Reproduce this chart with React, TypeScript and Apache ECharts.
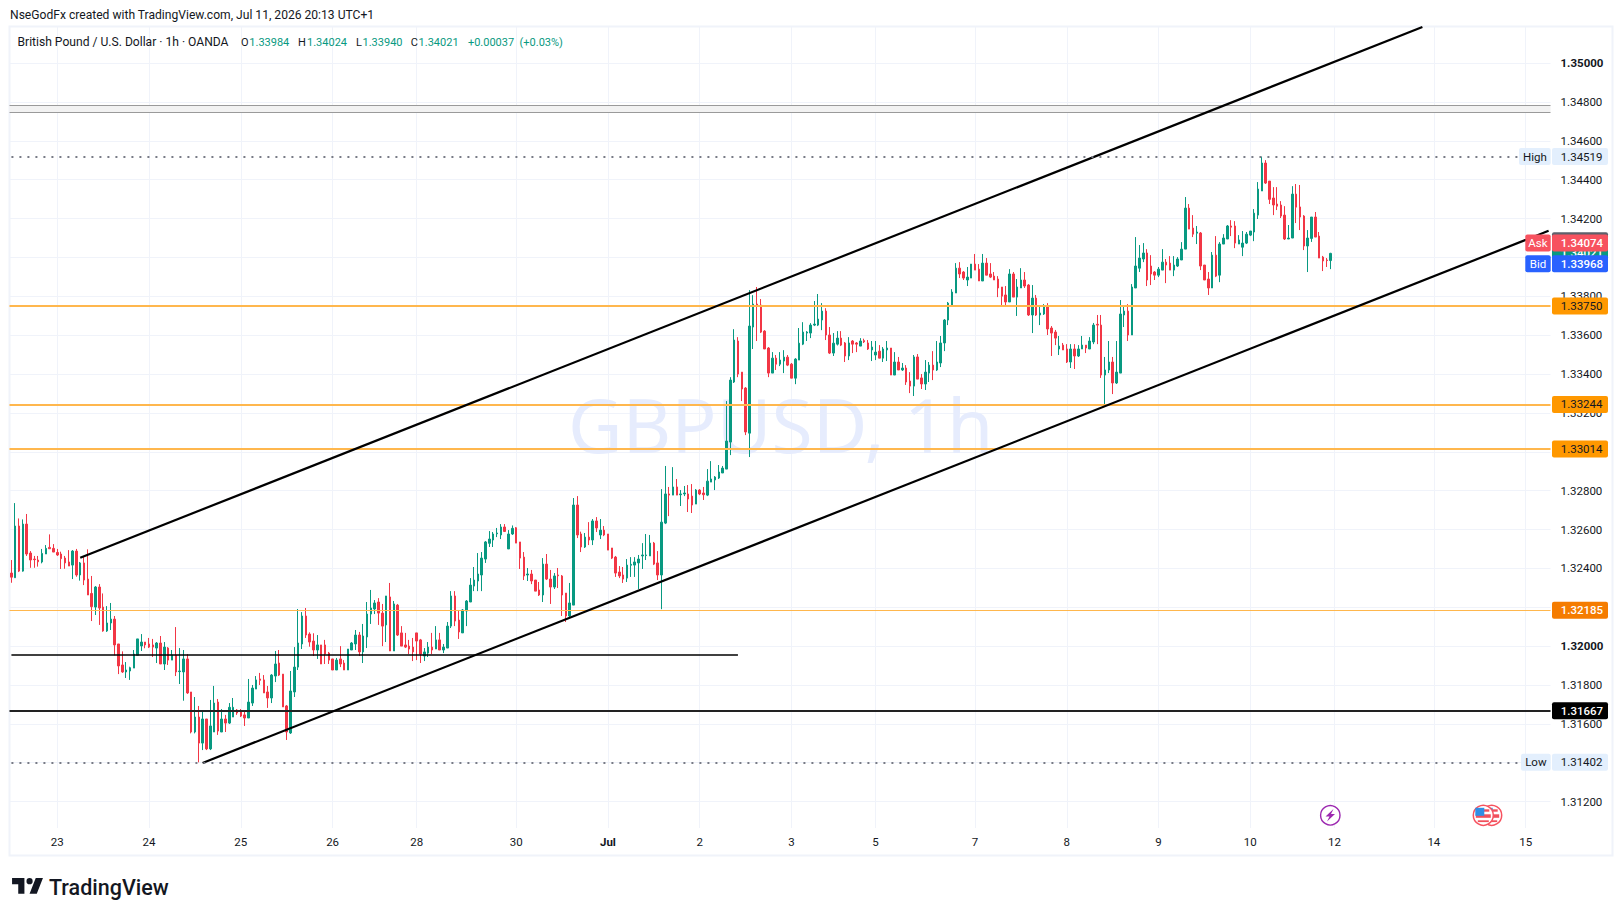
import React, { useEffect, useRef } from "react";
import * as echarts from "echarts";

// OHLC in fifths of a pip (price x 100000)
const opens = [
132376,132352,132618,132386,132628,132479,132448,132443,132433,132474,
132508,132503,132482,132474,132453,132433,132417,132489,132366,132428,
132345,132271,132201,132304,132201,132078,132119,132139,132011,131903,
131867,131872,131887,131953,132001,132021,132011,132006,131990,132016,
131908,131990,131928,131954,131869,131867,131934,131764,131558,131635,
131501,131625,131471,131558,131712,131558,131625,131604,131635,131671,
131661,131646,131630,131707,131779,131831,131826,131764,131733,131846,
131913,131856,131692,131553,131764,131892,132011,132155,132062,132026,
131980,132006,132006,131964,131934,131877,131934,131913,131877,131980,
132011,132057,131970,132047,132165,132191,132227,132170,132109,132253,
131975,132211,132068,132006,132000,131995,132068,132032,131949,131964,
131995,131985,132032,131980,131990,132103,132258,132134,132068,132181,
132227,132309,132335,132366,132448,132529,132546,132578,132572,132613,
132500,132577,132609,132536,132458,132366,132371,132340,132289,132263,
132422,132345,132304,132366,132361,132273,132155,132211,132726,132577,
132510,132561,132546,132644,132572,132597,132577,132505,132458,132381,
132366,132350,132416,132417,132428,132464,132466,132464,132530,132428,
132366,132633,132783,132777,132819,132779,132783,132783,132772,132731,
132803,132788,132777,132844,132855,132865,132891,132911,133050,133359,
133570,133410,133328,133096,133642,133760,133755,133621,133534,133405,
133482,133451,133467,133487,133451,133379,133472,133554,133611,133611,
133652,133652,133678,133724,133601,133508,133554,133585,133560,133493,
133570,133560,133544,133572,133560,133524,133498,133518,133482,133524,
133534,133395,133462,133421,133431,133364,133338,133488,133380,133349,
133405,133446,133421,133457,133560,133678,133750,133817,133945,133925,
133884,133894,133966,133940,133879,133971,133915,133904,133889,133848,
133807,133771,133915,133796,133843,133884,133858,133704,133791,133704,
133709,133745,133637,133616,133529,133549,133529,133462,133529,133493,
133529,133549,133529,133565,133656,133652,133395,133421,133462,133354,
133405,133704,133724,133601,133843,133945,133992,134023,133956,133925,
133909,133935,133976,133971,133935,133956,133987,134043,134254,134151,
134125,134126,133961,133889,133843,134012,133909,134069,134095,134162,
134162,134069,134053,134074,134115,134131,134218,134342,134486,134393,
134306,134275,134270,134218,134095,134100,134326,134260,134213,134059,
134098,134208,134110,134002,133987,133984,
];
const highs = [
132443,132736,132657,132652,132680,132489,132464,132464,132500,132520,
132575,132525,132500,132486,132464,132494,132494,132500,132433,132464,
132498,132361,132309,132319,132271,132206,132222,132155,132011,131973,
131918,131894,131980,132037,132062,132021,132042,132037,132021,132052,
132021,131995,131980,132098,131990,131980,131959,131764,131738,131692,
131671,131625,131723,131795,131728,131676,131646,131707,131733,131676,
131676,131671,131831,131800,131846,131862,131851,131795,131856,131975,
131980,131856,131697,131872,131995,132191,132175,132196,132071,132066,
132057,132006,132032,131970,131934,131939,132000,131928,131985,132021,
132083,132073,132114,132227,132289,132237,132247,132217,132258,132325,
132232,132217,132103,132068,132032,132042,132068,132037,131990,132021,
132068,132103,132068,132011,132124,132283,132283,132186,132191,132237,
132350,132407,132479,132484,132541,132592,132587,132608,132628,132628,
132597,132621,132613,132536,132484,132402,132392,132340,132330,132453,
132474,132392,132376,132402,132366,132273,132325,132762,132772,132589,
132582,132638,132654,132664,132654,132618,132577,132505,132464,132412,
132407,132448,132458,132458,132469,132530,132577,132572,132536,132489,
132808,132927,132819,132921,132860,132803,132824,132829,132834,132808,
132808,132819,132911,132952,132875,132932,132927,133261,133384,133631,
133590,133410,133333,133832,133806,133848,133786,133626,133539,133513,
133498,133513,133523,133498,133457,133482,133637,133667,133621,133662,
133776,133812,133765,133739,133642,133611,133621,133621,133565,133590,
133575,133565,133585,133582,133575,133570,133570,133549,133539,133570,
133534,133513,133488,133457,133446,133410,133498,133503,133400,133472,
133462,133518,133570,133596,133683,133771,133837,133971,133976,133930,
133951,133966,134018,133966,134018,133997,133971,133925,133904,133848,
133853,133940,133925,133889,133945,133925,133863,133858,133807,133755,
133760,133765,133647,133627,133596,133560,133554,133554,133554,133549,
133596,133549,133590,133663,133704,133704,133488,133570,133488,133570,
133781,133750,133760,133863,134105,134064,134074,134043,134012,133930,
133951,134043,133992,134007,134007,134002,134079,134311,134275,134218,
134162,134131,133961,133925,134028,134110,134079,134120,134167,134192,
134187,134115,134136,134131,134136,134249,134388,134519,134501,134393,
134362,134362,134290,134264,134167,134367,134378,134373,134218,134141,
134208,134234,134131,134008,133997,134024,
];
const lows = [
132326,132352,132381,132383,132464,132403,132403,132409,132426,132474,
132501,132484,132464,132397,132398,132412,132345,132357,132337,132314,
132263,132129,132160,132109,132074,132073,132083,131952,131856,131862,
131836,131826,131887,131953,131975,131989,131990,131944,131913,131908,
131877,131903,131928,131846,131805,131719,131754,131551,131551,131402,
131465,131465,131465,131558,131543,131558,131558,131599,131635,131646,
131635,131589,131630,131692,131779,131800,131759,131682,131707,131815,
131846,131687,131517,131548,131738,131877,131985,132042,131997,131949,
131934,131908,131908,131908,131877,131877,131892,131877,131877,131980,
131980,131949,131913,131990,132114,132165,132109,132000,132021,131975,
131975,132052,132000,131990,131959,131923,131928,131913,131923,131944,
131959,131985,131980,131964,131990,132093,132103,132037,132068,132103,
132227,132283,132283,132283,132428,132510,132510,132561,132551,132587,
132500,132572,132530,132397,132340,132335,132319,132283,132258,132227,
132340,132217,132294,132299,132155,132124,132145,132211,132556,132484,
132505,132520,132520,132587,132551,132566,132494,132448,132356,132350,
132325,132330,132356,132356,132294,132397,132443,132464,132417,132340,
132190,132628,132669,132777,132777,132721,132772,132690,132685,132731,
132777,132752,132772,132844,132803,132860,132891,132911,132983,133354,
133384,133261,133086,132973,133529,133570,133611,133529,133384,133405,
133421,133441,133405,133441,133379,133348,133472,133549,133570,133585,
133647,133647,133626,133575,133503,133493,133547,133544,133462,133472,
133508,133513,133544,133560,133524,133467,133472,133482,133462,133467,
133395,133395,133421,133416,133344,133302,133287,133374,133323,133318,
133359,133369,133416,133436,133518,133652,133750,133817,133894,133884,
133853,133894,133935,133879,133879,133909,133894,133884,133796,133755,
133755,133771,133796,133699,133843,133843,133699,133611,133699,133652,
133704,133601,133493,133549,133498,133524,133457,133431,133426,133488,
133529,133508,133529,133554,133554,133380,133240,133405,133297,133349,
133405,133642,133570,133601,133843,133925,133976,133853,133858,133884,
133899,133935,133868,133935,133904,133951,133987,134043,134146,134105,
134069,133935,133884,133807,133843,133899,133873,134069,134095,134110,
134048,134069,134007,134069,134110,134084,134198,134342,134378,134275,
134218,134244,134203,134090,134095,134100,134177,134141,134038,133925,
134080,134105,133997,133930,133951,133940,
];
const closes = [
132355,132618,132386,132628,132474,132443,132445,132434,132477,132503,
132501,132484,132469,132450,132428,132412,132489,132366,132428,132340,
132263,132203,132304,132196,132078,132119,132139,132006,131898,131867,
131877,131889,131959,132037,132021,132006,131995,131995,132016,131908,
131995,131928,131954,131867,131872,131934,131759,131558,131635,131501,
131625,131471,131589,131707,131563,131625,131604,131685,131685,131656,
131640,131630,131712,131784,131826,131824,131759,131733,131851,131908,
131851,131687,131558,131769,131892,132016,132155,132057,132021,131980,
132006,131908,131959,131928,131877,131928,131908,131877,131985,132016,
132057,131970,132052,132165,132196,132222,132170,132103,132258,131975,
132217,132057,132000,131995,131985,131970,132026,131959,131970,131995,
131980,132032,131980,131995,132103,132258,132129,132073,132186,132232,
132314,132340,132371,132453,132536,132551,132577,132582,132613,132590,
132577,132606,132530,132453,132361,132371,132335,132283,132263,132422,
132345,132304,132361,132362,132263,132155,132222,132726,132572,132510,
132561,132546,132644,132608,132597,132572,132494,132453,132376,132361,
132345,132417,132421,132433,132448,132469,132469,132530,132422,132366,
132638,132783,132777,132819,132777,132783,132788,132757,132726,132803,
132783,132779,132849,132860,132870,132896,132916,133055,133369,133575,
133400,133323,133102,133647,133760,133755,133616,133529,133405,133482,
133451,133472,133487,133446,133379,133477,133559,133616,133616,133652,
133657,133683,133724,133601,133508,133559,133585,133549,133493,133560,
133554,133554,133570,133566,133529,133539,133513,133482,133529,133534,
133395,133462,133421,133431,133359,133338,133488,133374,133349,133410,
133446,133421,133462,133560,133678,133765,133822,133945,133915,133894,
133899,133966,133935,133879,133971,133909,133899,133884,133843,133801,
133771,133915,133796,133848,133884,133853,133704,133791,133704,133714,
133745,133632,133611,133585,133544,133524,133462,133529,133493,133529,
133549,133534,133570,133652,133652,133395,133421,133462,133354,133410,
133709,133724,133601,133848,133956,133997,134023,133884,133915,133909,
133940,133976,133961,133935,133961,133992,134043,134254,134146,134120,
134131,133956,133884,133843,134012,133904,134069,134100,134162,134156,
134074,134090,134074,134120,134136,134228,134352,134486,134383,134299,
134270,134264,134213,134095,134100,134326,134259,134208,134059,134100,
134208,134105,133997,133982,133984,134021,
];

const slotCount = 403;
const dayIndex = [12, 36, 60, 84, 106, 132, 156, 180, 204, 226, 252, 276, 300, 324, 346, 372, 396];
const dayNames = ["23", "24", "25", "26", "28", "30", "Jul", "2", "3", "5", "7", "8", "9", "10", "12", "14", "15"];
const priceTicks = [1.312, 1.314, 1.316, 1.318, 1.32, 1.322, 1.324, 1.326, 1.328, 1.33, 1.332, 1.334, 1.336, 1.338, 1.34, 1.342, 1.344, 1.346, 1.348, 1.35];
const boldPrices = [1.32, 1.35];

const upperChannel = [[18, 1.32455], [369, 1.35186]];
const lowerChannel = [[50, 1.31399], [402, 1.34137]];
const supportLine = { end: 190, price: 1.31953 };
const rangeBand = [1.34783, 1.34747];
const orangeLevels = [1.3375, 1.33244, 1.33014];
const thinOrange = 1.32185;
const blackLevel = 1.31667;
const highPrice = 1.34519;
const lowPrice = 1.31402;
const askPrice = 1.34074;
const bidPrice = 1.33968;
const lastPrice = 1.34021;

const FONT = "Roboto, 'Noto Sans', sans-serif";
const INK = "#131722";
const UP = "#089981";
const DOWN = "#f23645";

const legendTitle = "British Pound / U.S. Dollar · 1h · OANDA";
const legendParts: [number, string, string][] = [
  [241, "O", INK], [249.3, "1.33984", UP],
  [298, "H", INK], [307, "1.34024", UP],
  [356, "L", INK], [362.5, "1.33940", UP],
  [410.7, "C", INK], [418.6, "1.34021", UP],
  [467.9, "+0.00037", UP], [519.6, "(+0.03%)", UP],
];

echarts.graphic.registerShape(
  "tvlogo",
  echarts.graphic.extendPath("M14 6H2v6h6v9h6V6zm12 15h-7l6-15h7l-6 15zm-7-9a3 3 0 1 0 0-6 3 3 0 0 0 0 6z", {})
);

export default function App() {
  const ref = useRef<HTMLDivElement>(null);
  useEffect(() => {
    document.body.style.margin = "0";
    const chart = echarts.init(ref.current!, null, { renderer: "svg" });
    const candles = opens.map((o, i) => [o / 1e5, closes[i] / 1e5, lows[i] / 1e5, highs[i] / 1e5]);
    const categories = Array.from({ length: slotCount }, (_, i) => {
      const k = dayIndex.indexOf(i);
      return k >= 0 ? dayNames[k] : String(i);
    });
    const isDay = (i: number) => dayIndex.includes(i);
    const hLine = (p: number, color: string, width: number) => ({
      yAxis: p,
      lineStyle: { color, width, type: "solid" as const },
    });
    const seg = (a: number[], b: number[], style: any) => [
      { coord: a, lineStyle: style },
      { coord: b },
    ];
    chart.setOption({
      animation: false,
      backgroundColor: "#ffffff",
      grid: { left: 9.5, width: 1541, top: 27, height: 801, containLabel: false, outerBoundsMode: "none" },
      xAxis: {
        type: "category",
        data: categories,
        boundaryGap: true,
        axisLine: { show: false },
        axisTick: { show: false },
        splitLine: {
          show: true,
          alignWithLabel: true,
          interval: (i: number) => isDay(i),
          lineStyle: { color: "#f0f3fa", width: 1 },
        },
        axisLabel: {
          interval: (i: number) => isDay(i),
          hideOverlap: false,
          margin: 8,
          fontFamily: FONT,
          fontSize: 11.5,
          color: INK,
          formatter: (v: string) => (v === "Jul" ? "{b|Jul}" : v),
          rich: { b: { fontFamily: FONT, fontSize: 11.5, fontWeight: "bold", color: INK } },
        },
      },
      yAxis: {
        type: "value",
        position: "right",
        min: 1.31064,
        max: 1.35186,
        axisLine: { show: false },
        axisTick: { show: false, customValues: priceTicks },
        splitLine: { show: true, lineStyle: { color: "#f0f3fa", width: 1 } },
        axisLabel: {
          customValues: priceTicks,
          margin: 10,
          fontFamily: FONT,
          fontSize: 11.5,
          color: INK,
          formatter: (v: number) =>
            boldPrices.some((b) => Math.abs(b - v) < 1e-7) ? `{b|${v.toFixed(5)}}` : v.toFixed(5),
          rich: { b: { fontFamily: FONT, fontSize: 11.5, fontWeight: "bold", color: INK } },
        },
      },
      series: [
        {
          type: "candlestick",
          data: candles,
          barWidth: 2,
          itemStyle: { color: UP, color0: DOWN, borderColor: UP, borderColor0: DOWN, borderWidth: 1 },
          silent: true,
          markArea: {
            silent: true,
            itemStyle: { color: "#f2f2f2" },
            data: [[{ yAxis: rangeBand[0] }, { yAxis: rangeBand[1] }]],
          },
          markLine: {
            silent: true,
            precision: 5,
            symbol: "none",
            label: { show: false },
            animation: false,
            data: [
              hLine(rangeBand[0], "#9a9a9a", 1),
              hLine(rangeBand[1], "#9a9a9a", 1),
              ...orangeLevels.map((p) => hLine(p, "#ffb74d", 2)),
              hLine(thinOrange, "#ffb74d", 1),
              hLine(blackLevel, "#222222", 2),
              seg([0, supportLine.price], [supportLine.end, supportLine.price], { color: "#000000", width: 1.5, type: "solid" }),
              seg(upperChannel[0], upperChannel[1], { color: "#000000", width: 2.2, type: "solid" }),
              seg(lowerChannel[0], lowerChannel[1], { color: "#000000", width: 2.2, type: "solid" }),
              seg([0, highPrice], [394, highPrice], { color: "#787b86", width: 2, type: [2, 6] }),
              seg([0, lowPrice], [394, lowPrice], { color: "#787b86", width: 2, type: [2, 6] }),
            ],
          },
        },
      ],
    });

    const yOf = (p: number) => chart.convertToPixel({ yAxisIndex: 0 }, p) as number;
    const txt = (x: number, y: number, text: string, fill: string, fontSize = 11.5, extra: any = {}, z = 20) => ({
      type: "text",
      x,
      y,
      z,
      silent: true,
      style: { text, fill, fontFamily: FONT, fontSize, textVerticalAlign: "middle", textAlign: "left", ...extra },
    });
    const box = (x: number, y: number, w: number, h: number, fill: string, z = 19) => ({
      type: "rect",
      z,
      silent: true,
      shape: { x, y, width: w, height: h, r: 2 },
      style: { fill },
    });
    const tag = (p: number, label: string, bg: string, fg: string, z: number, bold = false) => {
      const y = yOf(p);
      return [
        box(1552, y - 8.5, 56, 17, bg, z),
        txt(1560.7, y, label, fg, 11.5, bold ? { fontWeight: 500 } : {}, z + 1),
      ];
    };
    const sideTag = (p: number, label: string, left: number, bg: string, fg: string, z: number) => {
      const y = yOf(p);
      return [
        box(left, y - 8.5, 1550.7 - left, 17, bg, z),
        txt((left + 1550.7) / 2, y, label, fg, 11.5, { textAlign: "center" }, z + 1),
      ];
    };
    const flag = (cx: number, cy: number, z: number) => [
      { type: "circle", z, silent: true, shape: { cx, cy, r: 10 }, style: { fill: "#ffffff", stroke: "#f7525f", lineWidth: 1.5 } },
      { type: "rect", z, silent: true, shape: { x: cx - 7.5, y: cy - 1, width: 15, height: 3.5 }, style: { fill: "#f0505c" } },
      { type: "rect", z, silent: true, shape: { x: cx - 5.5, y: cy + 5, width: 11, height: 1.8 }, style: { fill: "#f0505c" } },
      { type: "rect", z, silent: true, shape: { x: cx - 2, y: cy - 6, width: 8, height: 2.4 }, style: { fill: "#f0505c" } },
      { type: "rect", z, silent: true, shape: { x: cx - 8, y: cy - 7.5, width: 9, height: 8 }, style: { fill: "#2f8fe6" } },
    ];

    chart.setOption({
      graphic: {
        elements: [
          { type: "rect", z: -1, silent: true, shape: { x: 9.5, y: 26.5, width: 1603, height: 829 }, style: { fill: "none", stroke: "#f0f3fa", lineWidth: 2 } },
          txt(568, 424, "GBPUSD, 1h", "#e6ecfd", 75, { fontFamily: "'Noto Sans', sans-serif" }, 0),
          txt(10, 15, "NseGodFx created with TradingView.com, Jul 11, 2026 20:13 UTC+1", INK, 12.1),
          txt(17.5, 42, legendTitle, INK, 12.1),
          ...legendParts.map(([x, t, c]) => txt(x, 42, t, c, 11)),
          ...sideTag(highPrice, "High", 1519, "#e3effd", INK, 30),
          ...tag(highPrice, "1.34519", "#e3effd", INK, 30),
          ...sideTag(lowPrice, "Low", 1521, "#e3effd", INK, 30),
          ...tag(lowPrice, "1.31402", "#e3effd", INK, 30),
          box(1552, 232.3, 56, 17, "#5d606b", 30),
          ...tag(lastPrice, "1.34021", UP, "#ffffff", 32, true),
          ...sideTag(askPrice, "Ask", 1525.3, "#f7525f", "#ffffff", 34),
          ...tag(askPrice, "1.34074", "#f7525f", "#ffffff", 34, true),
          ...sideTag(bidPrice, "Bid", 1525.3, "#2962ff", "#ffffff", 34),
          ...tag(bidPrice, "1.33968", "#2962ff", "#ffffff", 34, true),
          ...tag(1.3375, "1.33750", "#ff9800", INK, 30),
          ...tag(1.33244, "1.33244", "#ff9800", INK, 30),
          ...tag(1.33014, "1.33014", "#ff9800", INK, 30),
          ...tag(thinOrange, "1.32185", "#f57c00", "#ffffff", 30, true),
          ...tag(blackLevel, "1.31667", "#000000", "#ffffff", 30, true),
          { type: "circle", z: 25, silent: true, shape: { cx: 1330.3, cy: 815.3, r: 9.7 }, style: { fill: "#ffffff", stroke: "#9c27b0", lineWidth: 1.4 } },
          { type: "polygon", z: 26, silent: true, shape: { points: [[1333.5, 809], [1325.5, 816.5], [1329.5, 816.5], [1327, 821.5], [1335, 814], [1331, 814]] }, style: { fill: "#9c27b0" } },
          ...flag(1491.7, 815.3, 25),
          ...flag(1483.3, 815.3, 27),
          { type: "tvlogo", z: 20, silent: true, x: 10, y: 871.7, scaleX: 1.03, scaleY: 1.05, style: { fill: INK } },
          txt(49, 887, "TradingView", INK, 21.5, { fontWeight: 500 }),
        ],
      },
    });
    return () => chart.dispose();
  }, []);
  return <div ref={ref} style={{ position: "absolute", left: 0, top: 0, width: 1623, height: 916 }} />;
}
